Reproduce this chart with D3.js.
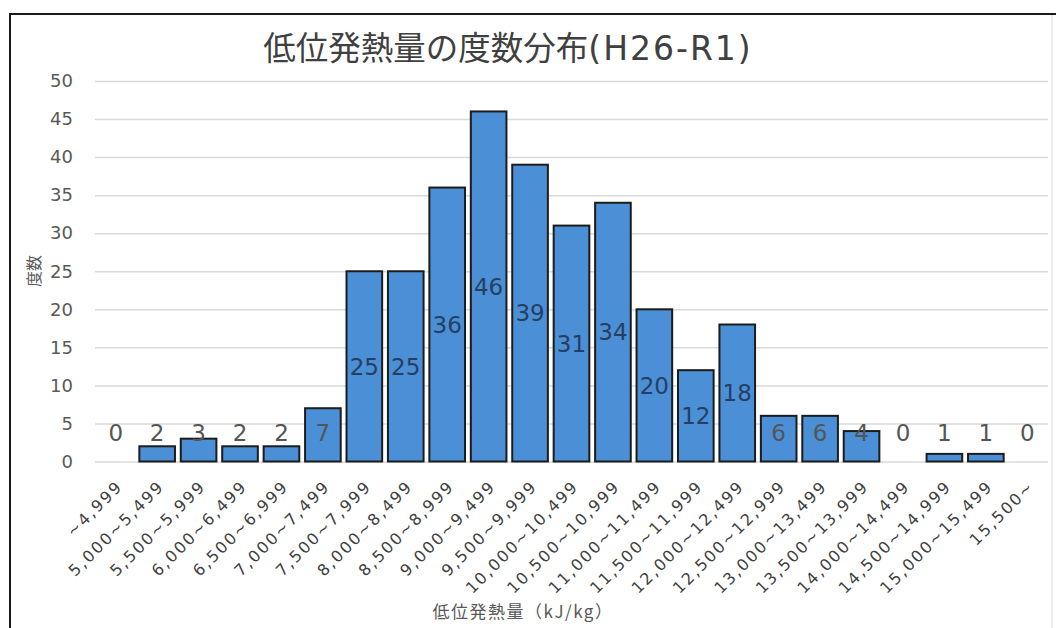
<!DOCTYPE html>
<html>
<head>
<meta charset="utf-8">
<script src="https://cdn.jsdelivr.net/npm/d3@7"></script>
<style>
  html, body { margin: 0; padding: 0; background: #fff; }
  svg { display: block; }
</style>
</head>
<body>
<svg id="chart" width="1056" height="628"></svg>
<script>
const categories = [
  "~4,999", "5,000~5,499", "5,500~5,999", "6,000~6,499", "6,500~6,999",
  "7,000~7,499", "7,500~7,999", "8,000~8,499", "8,500~8,999", "9,000~9,499",
  "9,500~9,999", "10,000~10,499", "10,500~10,999", "11,000~11,499", "11,500~11,999",
  "12,000~12,499", "12,500~12,999", "13,000~13,499", "13,500~13,999", "14,000~14,499",
  "14,500~14,999", "15,000~15,499", "15,500~"
];
const values = [0, 2, 3, 2, 2, 7, 25, 25, 36, 46, 39, 31, 34, 20, 12, 18, 6, 6, 4, 0, 1, 1, 0];
const yTicks = [0, 5, 10, 15, 20, 25, 30, 35, 40, 45, 50];
const titleMain = "低位発熱量の度数分布";
const titleSub = "(H26-R1)";
const xTitle = "低位発熱量（kJ/kg）";
const yTitle = "度数";

const svg = d3.select("#chart");
const W = 1056, H = 628;
const plot = { left: 95, right: 1048, top: 81, bottom: 461.5 };

svg.append("rect").attr("width", W).attr("height", H).attr("fill", "#fff");

// frame
svg.append("line").attr("x1", 1052).attr("x2", 1052).attr("y1", 14).attr("y2", H)
  .attr("stroke", "#e2e2e2").attr("stroke-width", 1.5);
svg.append("path").attr("d", `M10,${H}V14H${W}`).attr("fill", "none")
  .attr("stroke", "#1a1a1a").attr("stroke-width", 2);

const x = d3.scaleBand().domain(categories).range([plot.left, plot.right])
  .paddingInner(0.14).paddingOuter(0.07);
const y = d3.scaleLinear().domain([0, 50]).range([plot.bottom, plot.top]);

// y axis + gridlines
const ya = svg.append("g").attr("transform", `translate(${plot.left},0)`)
  .call(d3.axisLeft(y).tickValues(yTicks).tickSize(-(plot.right - plot.left)).tickPadding(22));
ya.select(".domain").remove();
ya.selectAll(".tick line").attr("stroke", "#d9d9d9").attr("stroke-width", 1.5);
ya.selectAll(".tick text").attr("fill", "#595959")
  .style("font-family", "'DejaVu Sans', sans-serif").style("font-size", "18px");

// bars
svg.append("g").selectAll("rect").data(values).join("rect")
  .attr("x", (d, i) => x(categories[i]))
  .attr("y", d => y(d))
  .attr("width", x.bandwidth())
  .attr("height", d => y(0) - y(d))
  .attr("fill", "#4b8fd6")
  .attr("stroke", "#1c1c1c")
  .attr("stroke-width", d => d > 0 ? 2 : 0);

// data labels
svg.append("g").selectAll("text").data(values).join("text")
  .attr("x", (d, i) => x(categories[i]) + x.bandwidth() / 2)
  .attr("y", d => Math.min((y(d) + y(0)) / 2, 433))
  .attr("dy", "0.36em")
  .attr("text-anchor", "middle")
  .attr("fill", d => ((y(d) + y(0)) / 2 < 433 ? "#253f63" : "#555"))
  .style("font-family", "'DejaVu Sans', sans-serif").style("font-size", "23px")
  .text(d => d);

// x axis labels
const xa = svg.append("g").attr("transform", `translate(0,${plot.bottom})`)
  .call(d3.axisBottom(x).tickSize(0));
xa.select(".domain").remove();
xa.selectAll(".tick text")
  .attr("x", 0).attr("y", 0).attr("dy", "0.35em")
  .attr("text-anchor", "end")
  .attr("transform", "translate(4,22) rotate(-45)")
  .attr("fill", "#404040")
  .style("font-family", "'DejaVu Sans', sans-serif").style("font-size", "16px")
  .style("letter-spacing", "2px");

// title
const t = svg.append("text").attr("x", 508).attr("y", 60).attr("text-anchor", "middle")
  .attr("fill", "#404040");
t.append("tspan").style("font-family", "'Noto Sans CJK JP', sans-serif").style("font-size", "32.5px")
  .text(titleMain);
t.append("tspan").style("font-family", "'DejaVu Sans', sans-serif").style("font-size", "33px")
  .style("letter-spacing", "2px").text(titleSub);

// axis titles
svg.append("text").attr("x", 523).attr("y", 618).attr("text-anchor", "middle")
  .attr("fill", "#595959")
  .style("font-family", "'Noto Sans CJK JP', sans-serif").style("font-size", "17px")
  .style("letter-spacing", "1.5px").text(xTitle);

svg.append("text").attr("transform", "translate(34,271) rotate(-90)")
  .attr("text-anchor", "middle").attr("dy", "0.35em").attr("fill", "#595959")
  .style("font-family", "'Noto Sans CJK JP', sans-serif").style("font-size", "16px")
  .text(yTitle);
</script>
</body>
</html>
